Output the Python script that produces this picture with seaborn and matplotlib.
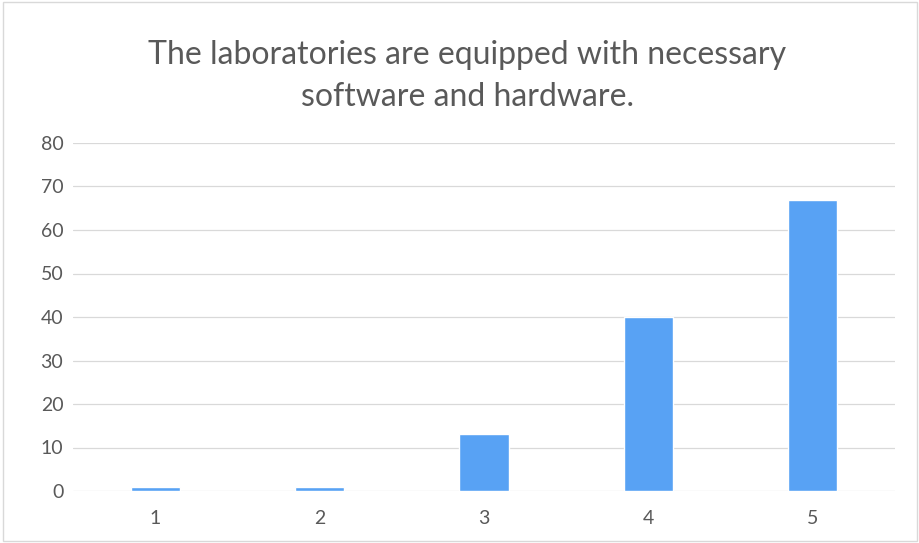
import matplotlib
matplotlib.use('Agg')
import matplotlib.pyplot as plt
import seaborn as sns
import pandas as pd

# values
ratings = ['1', '2', '3', '4', '5']
counts = [1, 1, 13, 40, 67]
yticks = [0, 10, 20, 30, 40, 50, 60, 70, 80]
title = 'The laboratories are equipped with necessary\nsoftware and hardware.'

df = pd.DataFrame({'rating': ratings, 'count': counts})

sns.set_style('white')
plt.rcParams['font.family'] = ['Lato', 'DejaVu Sans']

fig = plt.figure(figsize=(9.2, 5.43), dpi=100)
ax = fig.add_axes([73 / 920, 1 - 491 / 543, 822 / 920, 348 / 543])

sns.barplot(data=df, x='rating', y='count', color='#58A2F4', saturation=1,
            width=0.30, ax=ax, zorder=3)

ax.set_ylim(0, 80)
ax.set_yticks(yticks)
ax.yaxis.grid(True, color='#D9D9D9', linewidth=0.9, zorder=0)
ax.set_axisbelow(True)
for s in ax.spines.values():
    s.set_visible(False)
ax.set_xlabel('')
ax.set_ylabel('')
ax.tick_params(axis='both', length=0, labelsize=14, labelcolor='#595959')
ax.tick_params(axis='y', pad=7)
ax.tick_params(axis='x', pad=14)

fig.text(0.508, 1 - 76 / 543, title, ha='center', va='center',
         fontsize=23, color='#595959', linespacing=1.5)

# faint chart-area border
fig.patches.append(plt.Rectangle((0.003, 0.003), 0.994, 0.994, transform=fig.transFigure,
                                 fill=False, edgecolor='#D9D9D9', linewidth=1))

fig.savefig('out.png', dpi=100)
